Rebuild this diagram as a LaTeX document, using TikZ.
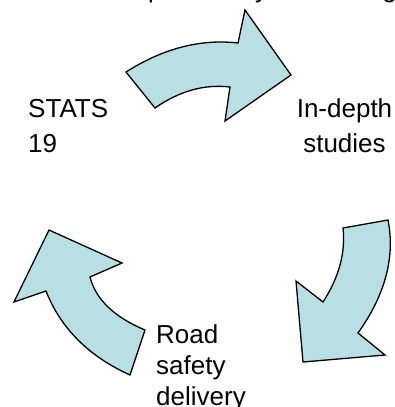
\documentclass[tikz,border=0pt]{standalone}
\usepackage{fontspec}
\setmainfont{Liberation Sans}
\usepackage{tikz}
\definecolor{arrowblue}{RGB}{184,223,227}

\tikzset{
  cyclearrow/.style={fill=arrowblue, draw=black, line width=1.3pt, line join=miter},
  cycletext/.style={inner sep=0pt, font=\fontsize{26}{33}\selectfont}
}

\begin{document}
\begin{tikzpicture}[x=1pt, y=-1pt]
  \useasboundingbox (0,0) rectangle (395,407);

  % Text cut off at the top edge
  \begin{scope}
    \clip (0,0) rectangle (395,407);
    \node[cycletext, anchor=base west] (toptext) at (109,-2.5) {Help to safety for making};
  \end{scope}

  % Top arrow
  \draw[cyclearrow] (126,72) .. controls (163.3,48.3) and (200.7,38.7) .. (238,43)
    -- (245,10) -- (291,75) -- (225,121) -- (230,87)
    .. controls (204.3,84) and (179.3,91) .. (155,108) -- cycle;

  % Right arrow
  \draw[cyclearrow] (343,228) -- (388,220)
    .. controls (395.3,257) and (385.3,294.7) .. (358,333)
    -- (385,355) -- (303,362) -- (296,281) -- (323,302)
    .. controls (339,277.3) and (345.7,252.7) .. (343,228) -- cycle;

  % Left arrow
  \draw[cyclearrow] (145,330) .. controls (114,317) and (95.7,299.3) .. (90,277)
    -- (122,263) -- (49,230) -- (14,302) -- (46,291)
    .. controls (60.7,328.3) and (88.7,356.3) .. (130,375) -- cycle;

  % Labels (base is the last line)
  \node[cycletext, anchor=base west, align=left] (stats) at (28,152) {STATS\\[2pt]19};
  \node[cycletext, anchor=base, align=center] (indepth) at (344.5,152) {In-depth\\[2pt]studies};
  \node[cycletext, anchor=base west, align=left] (road) at (156,405) {Road\\[-2pt]safety\\[-2pt]delivery};
\end{tikzpicture}
\end{document}
